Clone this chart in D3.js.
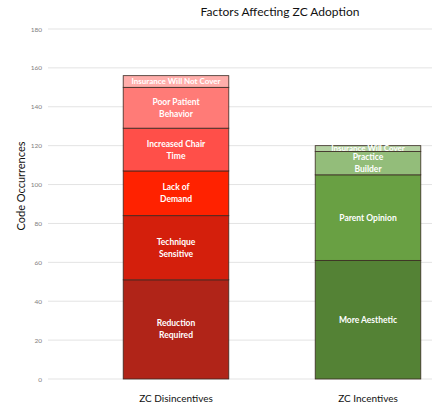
<!DOCTYPE html>
<html>
<head>
<meta charset="utf-8">
<script src="https://cdn.jsdelivr.net/npm/d3@7"></script>
<style>
  body { margin: 0; background: #fff; }
  text { font-family: Lato, "Open Sans", sans-serif; }
</style>
</head>
<body>
<div class="chart"></div>
<script>
// categories on the x axis
var categories = ["ZC Disincentives", "ZC Incentives"];

// stacked segments, bottom to top
var disLabels = ["Reduction Required", "Technique Sensitive", "Lack of Demand", "Increased Chair Time", "Poor Patient Behavior", "Insurance Will Not Cover"];
var disValues = [51, 33, 23, 22, 21, 6];
var disColors = ["#b02418", "#d41f0c", "#ff2200", "#ff4f49", "#ff7b77", "#ffaeab"];

var incLabels = ["More Aesthetic", "Parent Opinion", "Practice Builder", "Insurance Will Cover"];
var incValues = [61, 44, 12, 3];
var incColors = ["#548235", "#69a043", "#93bd7a", "#b5d2a3"];

// how each label wraps inside its segment
var disLines = [["Reduction", "Required"], ["Technique", "Sensitive"], ["Lack of", "Demand"], ["Increased Chair", "Time"], ["Poor Patient", "Behavior"], ["Insurance Will Not Cover"]];
var incLines = [["More Aesthetic"], ["Parent Opinion"], ["Practice", "Builder"], ["Insurance Will Cover"]];

var yTicks = [0, 20, 40, 60, 80, 100, 120, 140, 160, 180];

var width = 432, height = 406;

var svg = d3.select(".chart").append("svg")
  .attr("width", width).attr("height", height);

//scales
var y = d3.scaleLinear().domain([0, 180]).range([379, 29]);
var x = d3.scaleBand().domain(categories).range([80, 464]).paddingInner(0.45).paddingOuter(0.225);

//grid lines
svg.append("g").selectAll("line")
  .data(yTicks)
  .enter().append("line")
  .attr("x1", 48).attr("x2", width)
  .attr("y1", function(d){ return y(d); })
  .attr("y2", function(d){ return y(d); })
  .attr("stroke", "#e3e3e3")
  .attr("stroke-width", 1);

//y axis labels
var yAxis = d3.axisLeft(y).tickValues(yTicks).tickSize(0).tickPadding(0);
var yg = svg.append("g").attr("transform", "translate(42,0)").call(yAxis);
yg.select(".domain").remove();
yg.selectAll("text").attr("fill", "#808080").style("font-size", "6.5px");

//build stacked segments
function buildStack(cat, values, labels, colors, lines) {
  var base = 0;
  return values.map(function(v, i){
    var seg = {cat: cat, y0: base, y1: base + v, label: labels[i], color: colors[i], lines: lines[i]};
    base += v;
    return seg;
  });
}
var segments = buildStack(categories[0], disValues, disLabels, disColors, disLines)
  .concat(buildStack(categories[1], incValues, incLabels, incColors, incLines));

var bars = svg.append("g");
bars.selectAll("rect")
  .data(segments)
  .enter().append("rect")
  .attr("x", function(d){ return x(d.cat); })
  .attr("width", x.bandwidth())
  .attr("y", function(d){ return y(d.y1); })
  .attr("height", function(d){ return y(d.y0) - y(d.y1); })
  .attr("fill", function(d){ return d.color; })
  .attr("stroke", "#3a2a22")
  .attr("stroke-width", 0.8);

//segment labels
var lbl = svg.append("g").selectAll("text")
  .data(segments)
  .enter().append("text")
  .attr("text-anchor", "middle")
  .attr("fill", "#fff")
  .attr("font-weight", "bold")
  .style("font-size", function(d){ return (d.y1 - d.y0) < 8 ? "8px" : "8.5px"; })
  .attr("transform", function(d){
    var cx = x(d.cat) + x.bandwidth() / 2;
    var cy = (y(d.y0) + y(d.y1)) / 2;
    return "translate(" + cx + "," + cy + ")";
  });
lbl.each(function(d){
  var t = d3.select(this);
  var n = d.lines.length;
  var lh = 12;
  d.lines.forEach(function(s, i){
    t.append("tspan")
      .attr("x", 0)
      .attr("y", (i - (n - 1) / 2) * lh)
      .attr("dy", "0.35em")
      .text(s);
  });
});

//category labels
svg.append("g").selectAll("text")
  .data(categories)
  .enter().append("text")
  .attr("x", function(d){ return x(d) + x.bandwidth() / 2; })
  .attr("y", 402)
  .attr("text-anchor", "middle")
  .style("font-size", "10px")
  .attr("fill", "#111")
  .text(function(d){ return d; });

//title
svg.append("text")
  .attr("x", 280).attr("y", 16)
  .attr("text-anchor", "middle")
  .style("font-size", "12px")
  .attr("fill", "#111")
  .text("Factors Affecting ZC Adoption");

// text label for the y axis
svg.append("text")
  .attr("transform", "translate(25,186) rotate(-90)")
  .attr("text-anchor", "middle")
  .style("font-size", "11px")
  .attr("fill", "#111")
  .text("Code Occurrences");
</script>
</body>
</html>
